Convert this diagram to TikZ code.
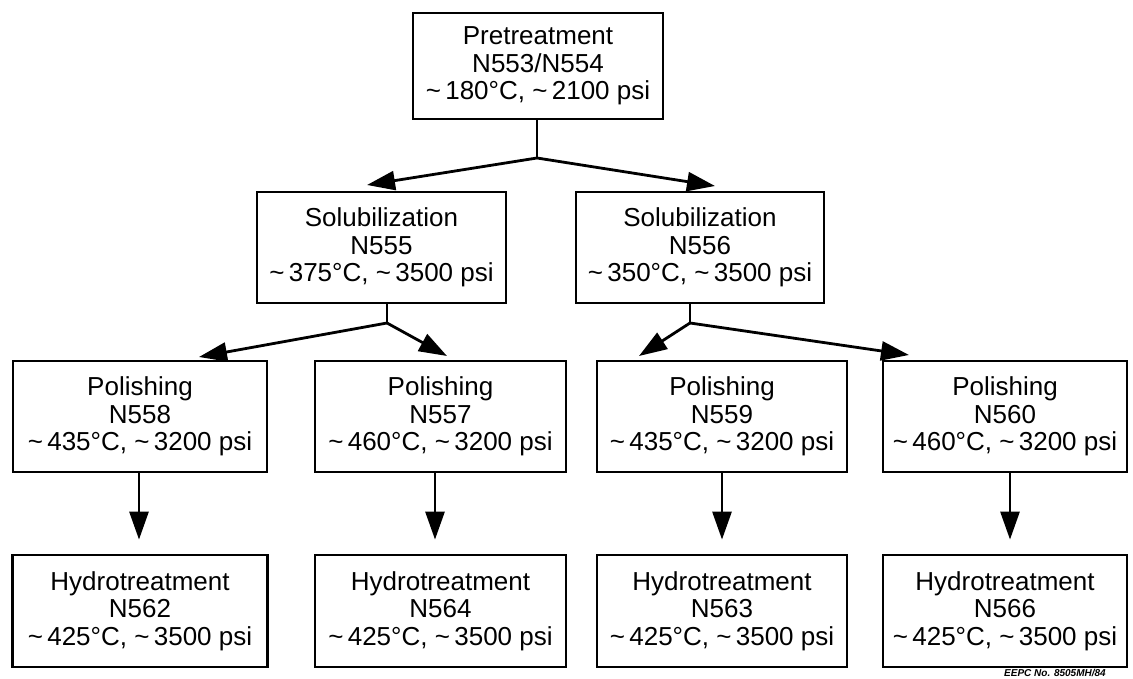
\documentclass[tikz,border=0pt]{standalone}
\usepackage{fontspec}
\setmainfont{Liberation Sans}
\usetikzlibrary{arrows.meta}
\newcommand{\tl}{\textasciitilde\,}
\tikzset{
  box/.style={draw, line width=2.8pt, align=center, inner sep=0pt,
    font=\fontsize{26}{27.5}\selectfont, minimum height=111pt},
  conn/.style={line width=2.8pt},
  arr/.style={line width=2.8pt, -{Triangle[length=28pt,width=19pt]}},
}
\begin{document}
\begin{tikzpicture}[x=1pt,y=-1pt]
\useasboundingbox (0,0) rectangle (1133,679);
% boxes
\node[box, minimum width=250pt, minimum height=106pt] (pre) at (538,66) {Pretreatment\\N553/N554\\\tl 180°C, \tl 2100 psi};
\node[box, minimum width=249pt] (s555) at (381.5,247.5) {Solubilization\\N555\\\tl 375°C, \tl 3500 psi};
\node[box, minimum width=248pt] (s556) at (700,247.5) {Solubilization\\N556\\\tl 350°C, \tl 3500 psi};
\node[box, minimum width=254pt] (p558) at (140,416.5) {Polishing\\N558\\\tl 435°C, \tl 3200 psi};
\node[box, minimum width=251pt] (p557) at (440.5,416.5) {Polishing\\N557\\\tl 460°C, \tl 3200 psi};
\node[box, minimum width=250pt] (p559) at (722,416.5) {Polishing\\N559\\\tl 435°C, \tl 3200 psi};
\node[box, minimum width=244pt] (p560) at (1005,416.5) {Polishing\\N560\\\tl 460°C, \tl 3200 psi};
\node[box, minimum width=255pt, minimum height=112pt] (h562) at (140,611) {Hydrotreatment\\N562\\\tl 425°C, \tl 3500 psi};
\node[box, minimum width=251pt, minimum height=112pt] (h564) at (440.5,611) {Hydrotreatment\\N564\\\tl 425°C, \tl 3500 psi};
\node[box, minimum width=250pt, minimum height=112pt] (h563) at (722,611) {Hydrotreatment\\N563\\\tl 425°C, \tl 3500 psi};
\node[box, minimum width=244pt, minimum height=112pt] (h566) at (1005,611) {Hydrotreatment\\N566\\\tl 425°C, \tl 3500 psi};
% junctions and arrow tips
\coordinate (j1) at (537,158);
\coordinate (t1a) at (367,185);
\coordinate (t1b) at (715,186);
\coordinate (j2) at (387,323);
\coordinate (t2a) at (199,357);
\coordinate (t2b) at (447,356);
\coordinate (j3) at (690,323);
\coordinate (t3a) at (639,356);
\coordinate (t3b) at (909,355);
% connectors
\draw[conn] (pre.south -| j1) -- (j1);
\draw[arr] (j1) -- (t1a);
\draw[arr] (j1) -- (t1b);
\draw[conn] (s555.south -| j2) -- (j2);
\draw[arr] (j2) -- (t2a);
\draw[arr] (j2) -- (t2b);
\draw[conn] (s556.south -| j3) -- (j3);
\draw[arr] (j3) -- (t3a);
\draw[arr] (j3) -- (t3b);
\draw[arr, shorten >=14pt] (p558.south -| 139,0) -- (h562.north -| 139,0);
\draw[arr, shorten >=14pt] (p557.south -| 435,0) -- (h564.north -| 435,0);
\draw[arr, shorten >=14pt] (p559.south -| 722,0) -- (h563.north -| 722,0);
\draw[arr, shorten >=14pt] (p560.south -| 1010,0) -- (h566.north -| 1010,0);
% footer
\node[anchor=north west, inner sep=0pt, font=\fontsize{10}{11}\selectfont\bfseries\itshape] (foot) at (1004,669.5) {EEPC No. 8505MH/84};
\end{tikzpicture}
\end{document}
